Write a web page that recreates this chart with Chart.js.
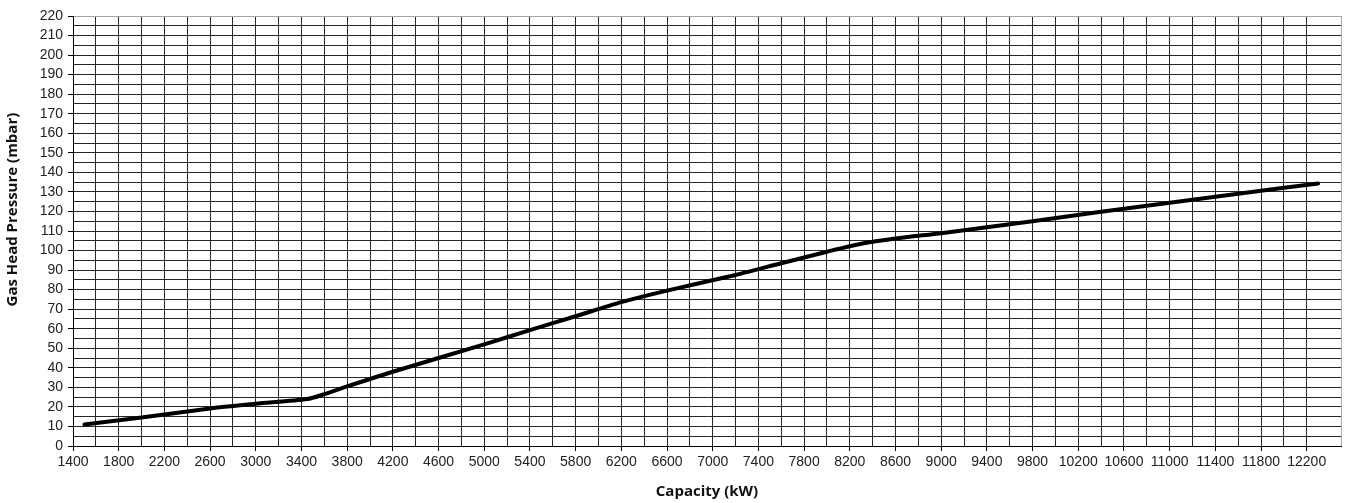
<!DOCTYPE html>
<html>
<head>
<meta charset="utf-8">
<script src="https://cdn.jsdelivr.net/npm/chart.js@4/dist/chart.umd.min.js"></script>
<style>
  html, body { margin: 0; padding: 0; background: #fff; }
  #wrap { width: 1351px; height: 503px; position: relative; }
</style>
</head>
<body>
<div id="wrap"><canvas id="c"></canvas></div>
<script>
// ---- data ----
const capacityKW = [1500, 2000, 2600, 3000, 3450, 3600, 3800, 4200, 5000, 5400, 5800, 6200, 6600, 7200, 7600, 8000, 8300, 8600, 9000, 9400, 9800, 10400, 11000, 11600, 12300];
const pressureMbar = [11, 14.6, 19.2, 21.6, 24, 26.5, 30.5, 38, 52, 59.3, 66.4, 73.6, 79.5, 87.5, 93.5, 99.4, 103.5, 106.2, 108.9, 111.9, 115, 119.8, 124.4, 129.1, 134.3];

const xTickLabels = [1400, 1800, 2200, 2600, 3000, 3400, 3800, 4200, 4600, 5000, 5400, 5800, 6200, 6600, 7000, 7400, 7800, 8200, 8600, 9000, 9400, 9800, 10200, 10600, 11000, 11400, 11800, 12200];
const yTickLabels = [0, 10, 20, 30, 40, 50, 60, 70, 80, 90, 100, 110, 120, 130, 140, 150, 160, 170, 180, 190, 200, 210, 220];

const xTitle = 'Capacity (kW)';
const yTitle = 'Gas Head Pressure (mbar)';

const xMin = 1400, xMax = 12500, xGridStep = 200;
const yMin = 0, yMax = 220, yGridStep = 5;

const xGrid = [];
for (let v = xMin; v <= xMax - xGridStep; v += xGridStep) xGrid.push(v);
xGrid.push(xMax);
const yGrid = [];
for (let v = yMin; v <= yMax; v += yGridStep) yGrid.push(v);

const points = capacityKW.map((x, i) => ({ x: x, y: pressureMbar[i] }));

const gridDark = '#262626';
const edgeGray = '#a6a6a6';
const tickFont = { family: "'Liberation Sans', Arial, sans-serif", size: 14 };
const titleFont = { family: "'Open Sans', sans-serif", size: 15, weight: 'bold' };
// the reference places the vertical title a little above the plot's middle
const yTitleLead = '\u00A0'.repeat(11);

new Chart(document.getElementById('c'), {
  type: 'line',
  data: {
    datasets: [{
      data: points,
      borderColor: '#000',
      borderWidth: 4,
      pointRadius: 0,
      tension: 0.25,
      borderCapStyle: 'round',
      borderJoinStyle: 'round',
      fill: false
    }]
  },
  options: {
    responsive: true,
    maintainAspectRatio: false,
    animation: false,
    layout: { padding: { top: 16, right: 10, left: 0, bottom: 0 } },
    plugins: { legend: { display: false }, tooltip: { enabled: false } },
    scales: {
      x: {
        type: 'linear',
        min: xMin, max: xMax,
        afterBuildTicks: (s) => { s.ticks = xGrid.map(v => ({ value: v })); },
        afterFit: (s) => { s.height = 57; },
        grid: {
          color: (ctx) => (ctx.tick && ctx.tick.value === xMax) ? edgeGray : gridDark,
          lineWidth: 1,
          tickLength: 5,
          tickColor: (ctx) => (ctx.tick && xTickLabels.includes(ctx.tick.value)) ? '#000' : 'rgba(0,0,0,0)'
        },
        border: { color: '#000', width: 1 },
        ticks: {
          autoSkip: false, maxRotation: 0, minRotation: 0, padding: 3,
          color: '#222',
          font: tickFont,
          callback: (v) => xTickLabels.includes(v) ? String(v) : ''
        },
        title: {
          display: true, text: xTitle, color: '#111',
          font: titleFont,
          padding: { top: 0, bottom: 2 }
        }
      },
      y: {
        type: 'linear',
        min: yMin, max: yMax,
        afterBuildTicks: (s) => { s.ticks = yGrid.map(v => ({ value: v })); },
        afterFit: (s) => { s.width = 73; },
        grid: {
          color: (ctx) => (ctx.tick && ctx.tick.value === yMax) ? edgeGray : gridDark,
          lineWidth: 1,
          tickLength: 5,
          tickColor: (ctx) => (ctx.tick && yTickLabels.includes(ctx.tick.value)) ? '#000' : 'rgba(0,0,0,0)'
        },
        border: { color: '#000', width: 1 },
        ticks: {
          autoSkip: false, padding: 5,
          color: '#222',
          font: tickFont,
          callback: (v) => yTickLabels.includes(v) ? String(v) : ''
        },
        title: {
          display: true, text: yTitleLead + yTitle, color: '#111',
          font: titleFont,
          padding: { top: 4, bottom: 0 }
        }
      }
    }
  }
});
</script>
</body>
</html>
